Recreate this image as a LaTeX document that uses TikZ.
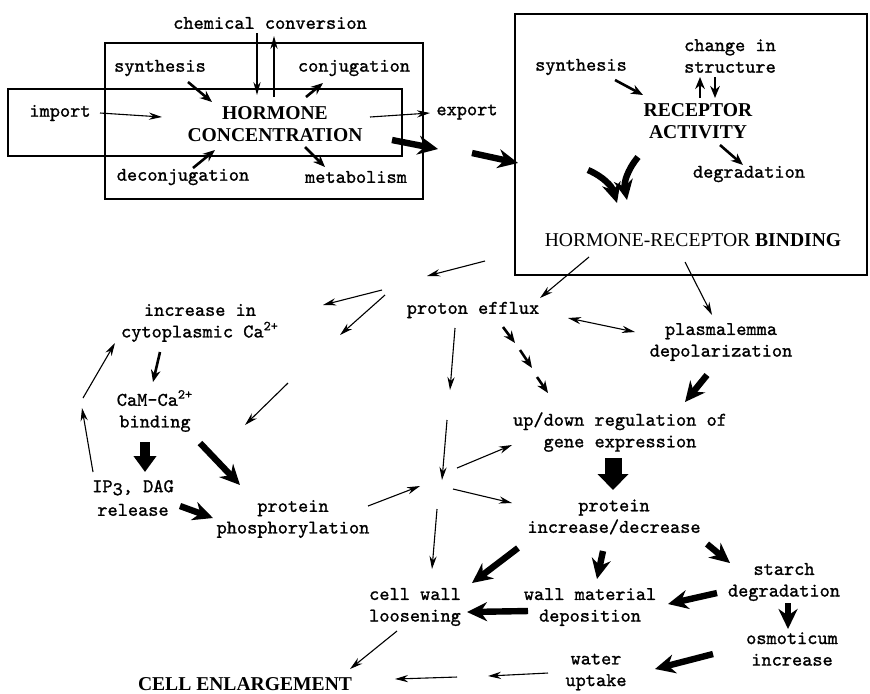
\documentclass[tikz,border=0pt]{standalone}
\usepackage{fontspec}
\newfontfamily\typefont{lmmono10-regular.otf}[FakeBold=1.1]
\newfontfamily\capsfont{Liberation Serif}
\usepackage{tikz}
\usetikzlibrary{arrows.meta}

\begin{document}
\begin{tikzpicture}[x=0.5pt, y=-0.5pt,
        lbl/.style={font=\typefont\fontsize{9.7}{10.8}\selectfont, align=center, inner sep=0pt},
        head/.style={font=\capsfont\bfseries\fontsize{9.8}{10.8}\selectfont, align=center, inner sep=0pt},
        frame/.style={line width=0.7pt},
        lightarr/.style={-{Stealth[length=6.5pt,width=3.6pt]}, line width=0.55pt},
        lightboth/.style={{Stealth[length=6.5pt,width=3.6pt]}-{Stealth[length=6.5pt,width=3.6pt]}, line width=0.55pt},
        midarr/.style={-{Stealth[length=6pt,width=4.8pt]}, line width=1.3pt},
        heavyarr/.style={-{Stealth[length=10pt,width=9.5pt]}, line width=3.2pt},
        blocksm/.style={-{Triangle[length=8pt,width=11pt]}, line width=5pt},
        blockarr/.style={-{Triangle[length=8pt,width=15pt]}, line width=8.5pt}]
                \useasboundingbox (0,0) rectangle (870,693);

                % frames
                \draw[frame] (105,43) rectangle (423,199);
                \draw[frame] (8,89) rectangle (402,156);
                \draw[frame] (515,14) rectangle (867,275);

                % hormone part
                \node[lbl] (chem) at (270,23) {chemical conversion};
                \node[lbl] (syn) at (160,68) {synthesis};
                \node[lbl] (conj) at (354,68) {conjugation};
                \node[lbl] (imp) at (60,113) {import};
                \node[head] (hc) at (275,124) {HORMONE\\CONCENTRATION};
                \node[lbl] (deconj) at (183,177) {deconjugation};
                \node[lbl] (metab) at (356,177) {metabolism};
                \node[lbl] (exp) at (467,112) {export};

                % receptor part
                \node[lbl] (rsyn) at (581,67) {synthesis};
                \node[lbl] (chg) at (730,56) {change in\\structure};
                \node[head] (ra) at (698,121) {RECEPTOR\\ACTIVITY};
                \node[lbl] (degr) at (749,174) {degradation};
                \node[head] (hrb) at (693,240) {{\mdseries HORMONE-RECEPTOR} BINDING};

                % responses
                \node[lbl] (pe) at (473,310) {proton efflux};
                \node[lbl] (pd) at (721,342) {plasmalemma\\depolarization};
                \node[lbl] (ca) at (200,323) {increase in\\cytoplasmic Ca\textsuperscript{2+}};
                \node[lbl] (cam) at (155,411) {CaM-Ca\textsuperscript{2+}\\binding};
                \node[lbl] (ip) at (133,498) {IP\raisebox{-1.5pt}{3}, DAG\\[1pt]release};
                \node[lbl] (pp) at (293,519) {protein\\phosphorylation};
                \node[lbl] (ge) at (620,432) {up/down regulation of\\gene expression};
                \node[lbl] (pid) at (614,517) {protein\\increase/decrease};
                \node[lbl] (cwl) at (415,607) {cell wall\\loosening};
                \node[lbl] (wmd) at (590,607) {wall material\\deposition};
                \node[lbl] (sd) at (784,582) {starch\\degradation};
                \node[lbl] (oi) at (792,649) {osmoticum\\increase};
                \node[lbl] (wu) at (596,672) {water\\uptake};
                \node[head] (ce) at (245,684) {CELL ENLARGEMENT};

                % arrow ends
                \foreach \n/\x/\y in {chemA/257/33, chemB/257/95, hcU/274/97, chemU/274/36,
                        synO/188/82, hcS/212/102, impO/100/113, hcI/162/117,
                        hcC/306/97, conjI/323/83, decO/193/168, hcD/215/150,
                        hcM/305/147, metI/325/167, hcE/370/117, expI/430/113,
                        hcR/392/140, midR/438/149, expR/472/153, boxI/518/163,
                        rsynO/615/80, raS/643/95, raU/700/98, chgI/700/77,
                        chgO/715/77, raD/715/98, raG/720/145, degI/743/165,
                        raL/588/170, hrbL/617/203, raR/638/157, hrbR/627/200,
                        hrbP/589/257, peI/540/298, hrbD/685/262, pdI/712/315,
                        hrbW/485/261, fwA/427/276, fwB/382/290, fwC/323/305,
                        fwD/385/295, fwE/340/335, fwF/288/383, ppI/245/425,
                        caO/160/352, camI/153/382, ipU/93/472, kinkA/82/408,
                        kinkB/83/398, caI/115/343, camO/145/442, ipI/145/472,
                        camP/200/443, ppA/240/485, ipO/180/506, ppB/213/518,
                        ppO/368/506, jnA/420/486,
                        peD/455/328, peE/450/390, jnT/447/420, jnB/442/480,
                        jnG/457/468, geI/512/445, jnP/453/489, pidI/512/503,
                        jnW/437/509, cwlI/432/569,
                        peG/503/327, dsA/515/343, dsB/520/350, dsC/532/368,
                        dsD/537/377, geJ/548/393, peR/568/318, pdL/635/332,
                        pdO/707/375, geK/685/402, geO/613/458, pidT/613/490,
                        pidL/518/548, cwlR/472/583, pidD/603/551, wmdI/597/579,
                        pidR/707/544, sdI/730/563, wmdO/528/611, cwlJ/467/612,
                        sdO/717/593, wmdR/668/604, sdD/788/603, oiI/788/629,
                        oiO/713/654, wuI/655/669, wuO/548/673, wuA/488/676,
                        wuB/457/677, ceI/395/679, cwlO/397/631, ceJ/350/669}
                    \coordinate (\n) at (\x,\y);

                % thin connectors
                \foreach \a/\b in {chemA/chemB, hcU/chemU, impO/hcI, hcE/expI,
                        hrbP/peI, hrbD/pdI, hrbW/fwA, fwB/fwC, fwD/fwE, fwF/ppI,
                        ipU/kinkA, kinkB/caI, ppO/jnA, peD/peE, jnT/jnB,
                        jnG/geI, jnP/pidI, jnW/cwlI, wuO/wuA, wuB/ceI, cwlO/ceJ}
                    \draw[lightarr] (\a) -- (\b);
                \draw[lightboth] (peR) -- (pdL);

                % medium connectors
                \foreach \a/\b in {synO/hcS, hcC/conjI, decO/hcD, hcM/metI,
                        rsynO/raS, raU/chgI, chgO/raD, raG/degI, caO/camI,
                        peG/dsA, dsB/dsC, dsD/geJ}
                    \draw[midarr] (\a) -- (\b);

                % heavy connectors
                \foreach \a/\b in {hcR/midR, expR/boxI, camP/ppA, ipO/ppB,
                        pdO/geK, pidL/cwlR, pidD/wmdI, pidR/sdI, wmdO/cwlJ,
                        sdO/wmdR, sdD/oiI, oiO/wuI}
                    \draw[heavyarr] (\a) -- (\b);
                \draw[heavyarr] (raL) to[bend left=25] (hrbL);
                \draw[heavyarr] (raR) to[bend right=25] (hrbR);

                \draw[blocksm] (camO) -- (ipI);
                \draw[blockarr] (geO) -- (pidT);
            \end{tikzpicture}
\end{document}
